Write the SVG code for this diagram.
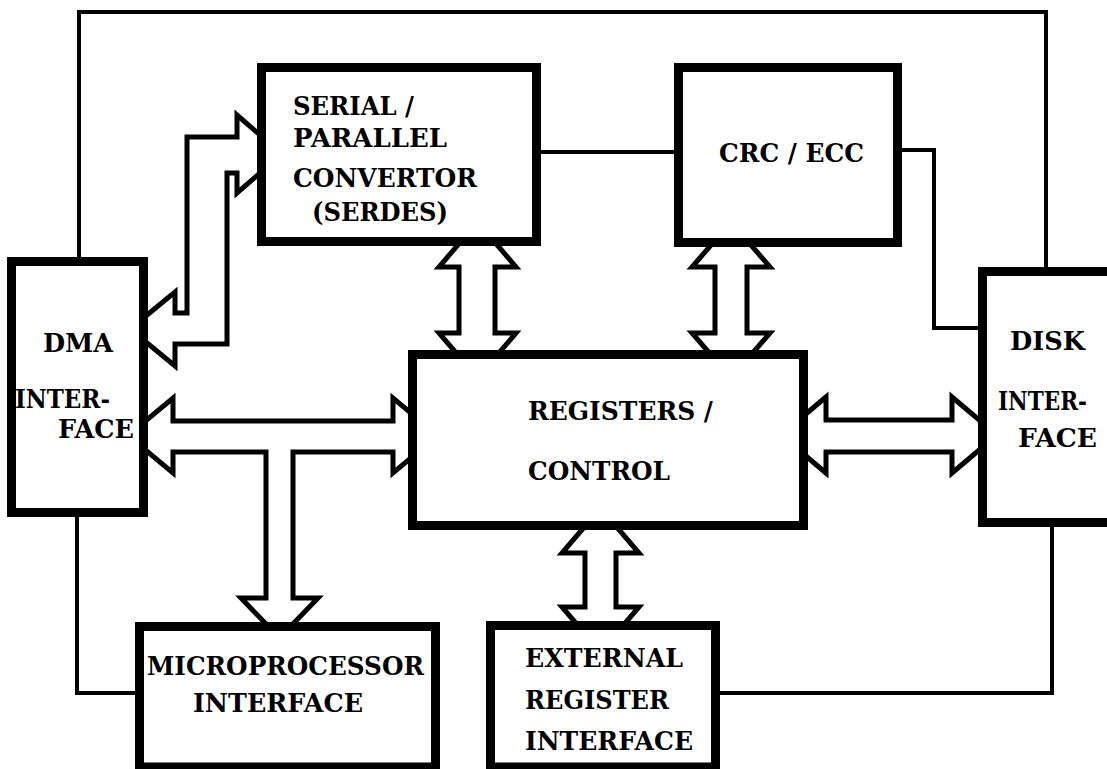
<svg xmlns="http://www.w3.org/2000/svg" width="1107" height="769" viewBox="0 0 1107 769">
  <style>
    .box { fill: #ffffff; stroke: #000000; stroke-width: 9; }
    .wire { fill: none; stroke: #000000; stroke-width: 4; stroke-linejoin: miter; }
    .bus { fill: #ffffff; stroke: #000000; stroke-width: 5; stroke-linejoin: miter; }
    .lbl { font-family: "DejaVu Serif", "Liberation Serif", serif; font-weight: bold; font-size: 26px; fill: #000000; }
  </style>
  <rect width="1107" height="769" fill="#ffffff"/>

  <!-- single-line links and double-line bus arrows; box fills hide the arrow tips -->
  <g id="connectors">
    <polyline class="wire" points="79,260 79,12 1046,12 1046,270"/>
    <line class="wire" x1="538" y1="152" x2="678" y2="152"/>
    <polyline class="wire" points="898,150 934,150 934,328 982,328"/>
    <polyline class="wire" points="77,514 77,693 139,693"/>
    <polyline class="wire" points="716,693 1052,693 1052,524"/>

    <!-- DMA <-> SERDES -->
    <polygon class="bus" points="130,329 175,292 175,313 187,313 187,137 237,137 237,115 282,154 237,193 237,173 227,173 227,344 175,344 175,366"/>
    <!-- SERDES <-> registers -->
    <polygon class="bus" points="477.5,222 516,267 495,267 495,333 516,333 477.5,378 439,333 459,333 459,267 439,267"/>
    <!-- CRC/ECC <-> registers -->
    <polygon class="bus" points="731,222 770,267 747,267 747,333 770,333 731,378 692,333 715,333 715,267 692,267"/>
    <!-- DMA <-> registers, branching to the microprocessor interface -->
    <polygon class="bus" points="128,435.5 173,398 173,421 393,421 393,398 438,435.5 393,473 393,452 293,452 293,598 318,598 279.5,638 241,598 266,598 266,452 173,452 173,473"/>
    <!-- registers <-> disk interface -->
    <polygon class="bus" points="781,435 826,397 826,420 952,420 952,397 997,435 952,473 952,452 826,452 826,473"/>
    <!-- registers <-> external register interface -->
    <polygon class="bus" points="600.5,508 639,553 616,553 616,607 639,607 600.5,652 562,607 585,607 585,553 562,553"/>
  </g>

  <g id="serdes">
    <rect class="box" x="261.5" y="67.5" width="275" height="174"/>
    <text class="lbl" x="293" y="115" textLength="121" lengthAdjust="spacingAndGlyphs">SERIAL /</text>
    <text class="lbl" x="293" y="147" textLength="154" lengthAdjust="spacingAndGlyphs">PARALLEL</text>
    <text class="lbl" x="293" y="187" textLength="184" lengthAdjust="spacingAndGlyphs">CONVERTOR</text>
    <text class="lbl" x="312" y="221" textLength="136" lengthAdjust="spacingAndGlyphs">(SERDES)</text>
  </g>

  <g id="crc-ecc">
    <rect class="box" x="678.5" y="67.5" width="219" height="175"/>
    <text class="lbl" x="719" y="162" textLength="145" lengthAdjust="spacingAndGlyphs">CRC / ECC</text>
  </g>

  <g id="dma-interface">
    <rect class="box" x="11.5" y="261.5" width="132" height="251"/>
    <text class="lbl" x="43" y="352" textLength="70" lengthAdjust="spacingAndGlyphs">DMA</text>
    <text class="lbl" x="15" y="408" textLength="95" lengthAdjust="spacingAndGlyphs">INTER-</text>
    <text class="lbl" x="58" y="438" textLength="76" lengthAdjust="spacingAndGlyphs">FACE</text>
  </g>

  <g id="registers-control">
    <rect class="box" x="412.5" y="354.5" width="391" height="171"/>
    <text class="lbl" x="528" y="420" textLength="185" lengthAdjust="spacingAndGlyphs">REGISTERS /</text>
    <text class="lbl" x="528" y="480" textLength="142" lengthAdjust="spacingAndGlyphs">CONTROL</text>
  </g>

  <g id="disk-interface">
    <rect class="box" x="982.5" y="271.5" width="140" height="251"/>
    <text class="lbl" x="1010" y="350" textLength="75" lengthAdjust="spacingAndGlyphs">DISK</text>
    <text class="lbl" x="998" y="410" textLength="89" lengthAdjust="spacingAndGlyphs">INTER-</text>
    <text class="lbl" x="1018" y="447" textLength="79" lengthAdjust="spacingAndGlyphs">FACE</text>
  </g>

  <g id="microprocessor-interface">
    <rect class="box" x="139.5" y="626.5" width="296" height="140.5"/>
    <text class="lbl" x="147" y="675" textLength="277" lengthAdjust="spacingAndGlyphs">MICROPROCESSOR</text>
    <text class="lbl" x="193" y="712" textLength="170" lengthAdjust="spacingAndGlyphs">INTERFACE</text>
  </g>

  <g id="external-register-interface">
    <rect class="box" x="490.5" y="625.5" width="225" height="141.5"/>
    <text class="lbl" x="525" y="667" textLength="158" lengthAdjust="spacingAndGlyphs">EXTERNAL</text>
    <text class="lbl" x="525" y="709" textLength="144" lengthAdjust="spacingAndGlyphs">REGISTER</text>
    <text class="lbl" x="525" y="750" textLength="168" lengthAdjust="spacingAndGlyphs">INTERFACE</text>
  </g>
</svg>
